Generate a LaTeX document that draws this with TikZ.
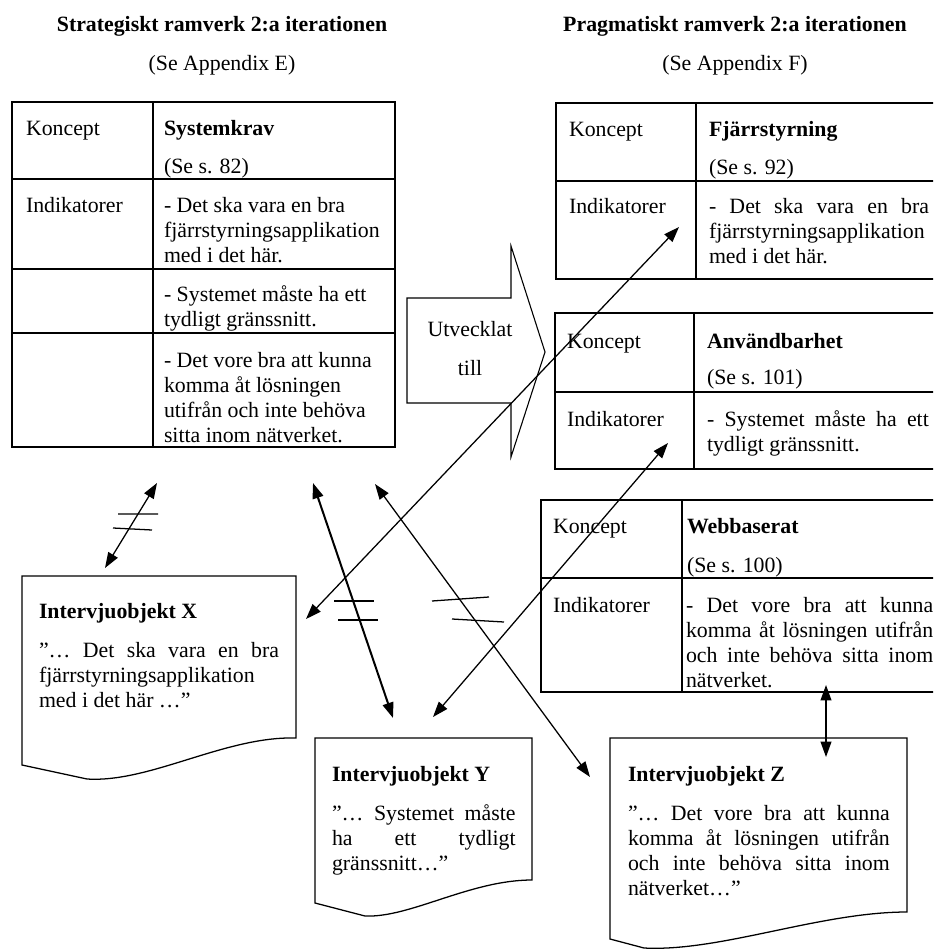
\documentclass[tikz,border=0pt]{standalone}
\usepackage{fontspec}
\setmainfont{Liberation Serif}
\usetikzlibrary{arrows.meta}
% a line stretched to a given width (justified line)
\newcommand\jline[2]{\makebox[#1][s]{#2}}
\begin{document}
\begin{tikzpicture}[x=0.55pt, y=-0.55pt,
  every node/.style={inner sep=0pt, outer sep=0pt},
  txt/.style={font=\fontsize{12}{13.75}\selectfont},
  cell/.style={txt, anchor=north west, align=left, yshift=9.625pt},
  ttl/.style={txt, anchor=base},
  frame/.style={line width=1.1pt},
  doc/.style={line width=0.7pt, line join=miter},
  bigarrow/.style={line width=0.6pt, line join=miter},
  tip/.style={Triangle[length=8.5pt,width=6pt]},
  link/.style={line width=0.7pt, {Triangle[length=8.5pt,width=6pt]}-{Triangle[length=8.5pt,width=6pt]}},
  boldlink/.style={link, line width=1.1pt},
  strike/.style={line width=0.7pt}
]
\useasboundingbox (0,0) rectangle (933,949);
\clip (0,0) rectangle (933,949);

% ---------- headings ----------
\node[ttl] (h1) at (222,32) {\bfseries Strategiskt ramverk 2:a iterationen};
\node[ttl] (h1s) at (222,71) {(Se Appendix E)};
\node[ttl] (h2) at (735,32) {\bfseries Pragmatiskt ramverk 2:a iterationen};
\node[ttl] (h2s) at (735,71) {(Se Appendix F)};

% ---------- strategic framework table ----------
\draw[frame] (12,102) rectangle (395,447);
\draw[frame] (153,102) -- (153,447)
  (12,179) -- (395,179) (12,269) -- (395,269) (12,333) -- (395,333);
\node[cell] (sk) at (26,136) {\strut Koncept};
\node[cell] (sv) at (164,136) {\strut\bfseries Systemkrav};
\node[cell] (sp) at (164,174) {\strut(Se s. 82)};
\node[cell] (si) at (26,213) {\strut Indikatorer};
\node[cell] (s1) at (164,213) {\strut- Det ska vara en bra\\fjärrstyrningsapplikation\\med i det här.};
\node[cell] (s2) at (164,302) {\strut- Systemet måste ha ett\\tydligt gränssnitt.};
\node[cell] (s3) at (164,367) {\strut- Det vore bra att kunna\\komma åt lösningen\\utifrån och inte behöva\\sitta inom nätverket.};

% ---------- pragmatic framework tables ----------
% Fjärrstyrning
\draw[frame] (950,103) -- (556,103) -- (556,279) -- (950,279);
\draw[frame] (696,103) -- (696,279) (556,181) -- (950,181);
\node[cell] (fk) at (569,137) {\strut Koncept};
\node[cell] (fv) at (709,137) {\strut\bfseries Fjärrstyrning};
\node[cell] (fp) at (709,175) {\strut(Se s. 92)};
\node[cell] (fi) at (569,214) {\strut Indikatorer};
\node[cell] (f1) at (709,214) {\strut\jline{121pt}{- Det ska vara en bra}\\fjärrstyrningsapplikation\\med i det här.};

% Användbarhet
\draw[frame] (950,313) -- (555,313) -- (555,469) -- (950,469);
\draw[frame] (694,313) -- (694,469) (555,392) -- (950,392);
\node[cell] (ak) at (567,348) {\strut Koncept};
\node[cell] (av) at (707,348) {\strut\bfseries Användbarhet};
\node[cell] (ap) at (707,384) {\strut(Se s. 101)};
\node[cell] (ai) at (567,426) {\strut Indikatorer};
\node[cell] (a1) at (707,426) {\strut\jline{122pt}{- Systemet måste ha ett}\\tydligt gränssnitt.};

% Webbaserat
\draw[frame] (950,500) -- (541,500) -- (541,692) -- (950,692);
\draw[frame] (682,500) -- (682,692) (541,578) -- (950,578);
\node[cell] (wk) at (553,533) {\strut Koncept};
\node[cell] (wv) at (687,533) {\strut\bfseries Webbaserat};
\node[cell] (wp) at (687,572) {\strut(Se s. 100)};
\node[cell] (wi) at (553,612) {\strut Indikatorer};
\node[cell] (w1) at (686,612) {\strut\jline{136pt}{- Det vore bra att kunna}\\\jline{136pt}{komma åt lösningen utifrån}\\\jline{136pt}{och inte behöva sitta inom}\\nätverket.};

% ---------- block arrow ----------
\draw[bigarrow] (407,298) -- (511,298) -- (511,246) -- (545,352) -- (511,457)
  -- (511,403) -- (407,403) -- cycle;
\node[ttl] (u1) at (470,336) {Utvecklat};
\node[ttl] (u2) at (470,375) {till};

% ---------- interview documents ----------
\draw[doc] (22,576) -- (296,576) -- (296,738)
  .. controls (225,736) and (150,783) .. (87,779) -- (22,765) -- cycle;
\node[cell] (xh) at (39,618) {\strut\bfseries Intervjuobjekt X};
\node[cell] (xq) at (39,657) {\strut\jline{132pt}{”… Det ska vara en bra}\\fjärrstyrningsapplikation\\med i det här …”};

\draw[doc] (315,738) -- (532,738) -- (532,880)
  .. controls (470,880) and (410,918) .. (365,916) -- (315,903) -- cycle;
\node[cell] (yh) at (332,781) {\strut\bfseries Intervjuobjekt Y};
\node[cell] (yq) at (332,820) {\strut\jline{101pt}{”… Systemet måste}\\\jline{101pt}{ha ett tydligt}\\gränssnitt…”};

\draw[doc] (610,738) -- (907,738) -- (907,912)
  .. controls (820,912) and (720,952) .. (644,948) -- (610,939) -- cycle;
\node[cell] (zh) at (628,781) {\strut\bfseries Intervjuobjekt Z};
\node[cell] (zq) at (628,820) {\strut\jline{144pt}{”… Det vore bra att kunna}\\\jline{144pt}{komma åt lösningen utifrån}\\\jline{144pt}{och inte behöva sitta inom}\\nätverket…”};

% ---------- connector end points ----------
\coordinate (p1a) at (157,483); \coordinate (p1b) at (105,568);
\coordinate (p2a) at (679,227); \coordinate (p2b) at (306,619);
\coordinate (p3a) at (313,483); \coordinate (p3b) at (393,718);
\coordinate (p4a) at (375,484); \coordinate (p4b) at (590,777);
\coordinate (p5a) at (668,443); \coordinate (p5b) at (433,717);
\coordinate (p6a) at (826,685); \coordinate (p6b) at (826,757);

% ---------- connectors ----------
\draw[link] (p1a) -- (p1b);
\draw[link] (p2a) -- (p2b);
\draw[boldlink] (p3a) -- (p3b);
\draw[link] (p4a) -- (p4b);
\draw[link] (p5a) -- (p5b);
\draw[link] (p6a) -- (p6b);

% "not equal" marks across connectors
\draw[strike] (118,514) -- (158,514) (113,528) -- (152,530);
\draw[strike] (334,601) -- (374,601) (338,620) -- (378,620);
\draw[strike] (432,601) -- (489,597) (452,619) -- (504,622);
\end{tikzpicture}
\end{document}
